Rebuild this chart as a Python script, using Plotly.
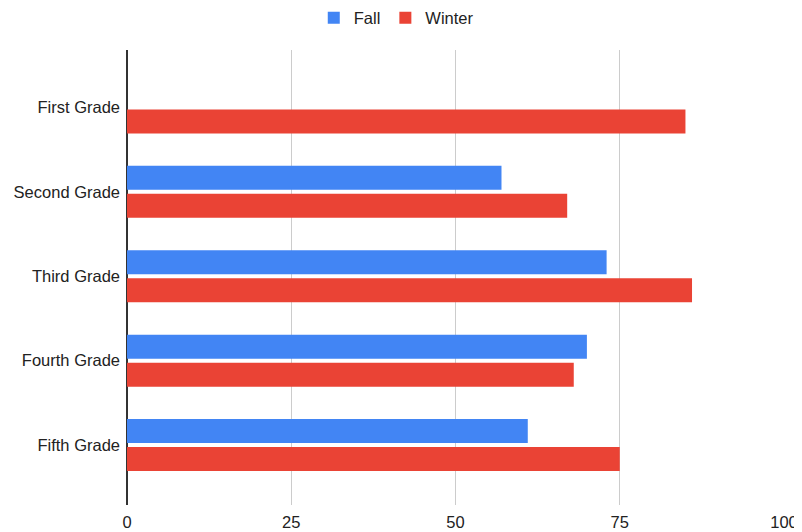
import plotly.graph_objects as go

categories = ["First Grade", "Second Grade", "Third Grade", "Fourth Grade", "Fifth Grade"]
fall = [None, 57, 73, 70, 61]
winter = [85, 67, 86, 68, 75]
x_ticks = [0, 25, 50, 75, 100]

FONT = "Liberation Sans, Arial, sans-serif"

fig = go.Figure()
fig.add_trace(go.Bar(y=categories, x=fall, name="Fall", orientation="h",
                     marker=dict(color="#4285F4", line=dict(width=0))))
fig.add_trace(go.Bar(y=categories, x=winter, name="Winter", orientation="h",
                     marker=dict(color="#EA4335", line=dict(width=0))))

fig.update_layout(
    width=794, height=524,
    margin=dict(l=119, r=18, t=42, b=27, autoexpand=False),
    paper_bgcolor="white", plot_bgcolor="white",
    barmode="group", bargap=0.337, bargroupgap=0.143,
    font=dict(family=FONT, size=16.5, color="#222"),
    legend=dict(orientation="h", x=0.489, xanchor="center", xref="container",
                y=0.981, yanchor="middle", yref="container",
                font=dict(size=16.5), itemwidth=30),
    xaxis=dict(range=[0, 100], tickvals=x_ticks, showgrid=True, gridcolor="#cccccc",
               zeroline=True, zerolinecolor="#333333", zerolinewidth=1.5,
               ticks="", showline=False, ticklabelstandoff=5, automargin=False),
    yaxis=dict(range=[4.71, -0.68], showgrid=False, ticks="", showline=False,
               ticklabelstandoff=6, automargin=False),
)

fig.write_html("out.html")
